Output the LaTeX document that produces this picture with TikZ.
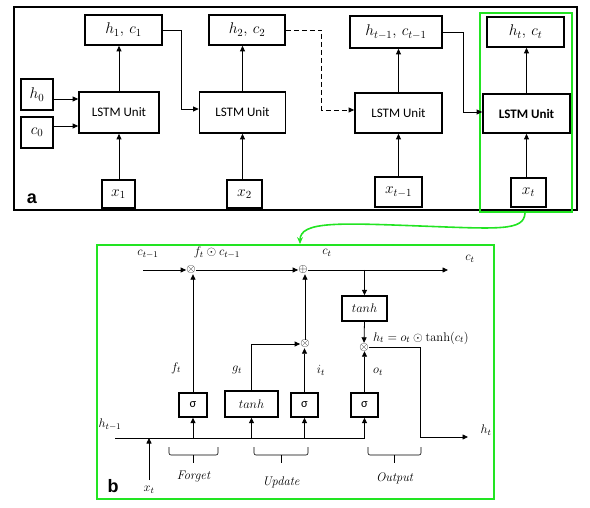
\RequirePackage{fix-cm}
\documentclass[tikz,border=0pt]{standalone}
\usepackage{fontspec}
\setsansfont{Carlito}
\usetikzlibrary{arrows.meta,calc}
\definecolor{hl}{RGB}{34,228,34}
\begin{document}
\begin{tikzpicture}[x=1pt,y=-1pt,
  box/.style={draw,line width=1.7pt,inner sep=0pt,fill=white},
  unit/.style={box,font=\sffamily\fontsize{13}{15}\selectfont},
  arr/.style={line width=0.8pt,-{Triangle[length=5.5pt,width=5pt]}},
  ln/.style={line width=0.8pt},
  bigm/.style={font=\fontsize{15.5}{17}\selectfont},
  smm/.style={font=\fontsize{12.5}{14}\selectfont,inner sep=1pt},
  gate/.style={box,line width=1.4pt,font=\fontsize{12.5}{14}\selectfont},
  op/.style={inner sep=0pt,font=\fontsize{12}{13}\selectfont},
  tag/.style={font=\fontspec{Liberation Sans}\bfseries\fontsize{18}{20}\selectfont},
  lab/.style={font=\fontsize{12.5}{14}\selectfont\itshape}]
\useasboundingbox (0,0) rectangle (590,508);

% ---------- panel a: unrolled chain ----------
\draw[line width=2.2pt] (14,7) rectangle (577,210);
\draw[hl,line width=1.6pt] (480,13) rectangle (572,212);
\node[tag] at (32,199) {a};

\node[box,bigm,minimum width=77pt,minimum height=30pt] (hc1) at (123.5,30) {$h_1,\,c_1$};
\node[box,bigm,minimum width=76pt,minimum height=30pt] (hc2) at (247,30) {$h_2,\,c_2$};
\node[box,bigm,minimum width=92pt,minimum height=32pt] (hc3) at (396,32) {$h_{t-1},\,c_{t-1}$};
\node[box,bigm,minimum width=77pt,minimum height=30pt] (hc4) at (525.5,32) {$h_t,\,c_t$};

\node[box,bigm,minimum width=32pt,minimum height=31pt] (h0) at (37,94.5) {$h_0$};
\node[box,bigm,minimum width=32pt,minimum height=31pt] (c0) at (37,132.5) {$c_0$};

\node[unit,minimum width=80pt,minimum height=41pt] (L1) at (119,112.5) {LSTM Unit};
\node[unit,minimum width=86pt,minimum height=41pt] (L2) at (242.5,112.5) {LSTM Unit};
\node[unit,minimum width=87pt,minimum height=40pt] (L3) at (398.5,113) {LSTM Unit};
\node[unit,minimum width=87pt,minimum height=39pt,font=\sffamily\bfseries\fontsize{13}{15}\selectfont] (L4) at (526.5,113.5) {LSTM Unit};

\node[box,bigm,minimum width=33pt,minimum height=28pt] (x1) at (118.5,194) {$x_1$};
\node[box,bigm,minimum width=35pt,minimum height=28pt] (x2) at (244.5,194) {$x_2$};
\node[box,bigm,minimum width=47pt,minimum height=30pt] (x3) at (398.5,192) {$x_{t-1}$};
\node[box,bigm,minimum width=35pt,minimum height=29pt] (x4) at (528.5,192.5) {$x_t$};

\foreach \u/\o/\i in {L1/hc1/x1,L2/hc2/x2,L3/hc3/x3,L4/hc4/x4}{
  \draw[arr] (\u.north) -- (\u.north |- \o.south);
  \draw[arr] (\i.north) -- (\i.north -| \u.south) -- (\u.south);
}
\draw[arr] ([yshift=-4.5pt]h0.east) -- ([yshift=-4.5pt]h0.east -| L1.west);
\draw[arr] ([yshift=6.5pt]c0.east) -- ([yshift=6.5pt]c0.east -| L1.west);
\draw[arr] (hc1.east) -- ++(19,0) |- ([yshift=3.5pt]L2.west);
\draw[arr,dashed,dash pattern=on 5pt off 3pt] (hc2.east) -- ++(36,0) |- ([yshift=3pt]L3.west);
\draw[arr] (hc3.east) -- ++(21,0) |- ([yshift=1.5pt]L4.west);

% zoom connector into panel b
\coordinate (ga) at (525,213);
\coordinate (gb) at (300,244);
\draw[hl,line width=1.6pt,-{Stealth[length=7pt,width=6pt,inset=2.5pt]}]
  (ga) .. controls (524,231) and (500,229) .. (420,226)
       .. controls (340,223) and (300,221) .. (gb);

% ---------- panel b: one LSTM cell ----------
\draw[hl,line width=1.8pt] (97,245) rectangle (494,499);
\node[tag] at (113,486) {b};

\node[op] (ot1) at (191,270) {$\otimes$};
\node[op] (pl)  at (303,270) {$\oplus$};
\node[op] (ot2) at (305,344) {$\otimes$};
\node[op] (ot3) at (364,347) {$\otimes$};

\node[gate,minimum width=28pt,minimum height=24pt] (sf) at (193,405) {\sffamily σ};
\node[gate,minimum width=53pt,minimum height=26pt] (tg) at (251.5,404) {$tanh$};
\node[gate,minimum width=27pt,minimum height=24pt] (si) at (304.5,405) {\sffamily σ};
\node[gate,minimum width=27pt,minimum height=24pt] (so) at (364.5,405) {\sffamily σ};
\node[gate,minimum width=45pt,minimum height=25pt] (tc) at (364.5,308.5) {$tanh$};

\coordinate (cin) at (143,270);
\coordinate (cout) at (448,270);
\coordinate (hin) at (115,438);
\coordinate (hbend) at (420,347);
\coordinate (hout) at (468,437);
\coordinate (xin) at (149,480);

% cell state path
\draw[arr] (cin) -- (ot1);
\draw[arr] (ot1) -- (pl);
\draw[arr] (pl) -- (cout);
\draw[arr] (tc.north |- pl) -- (tc.north);
\draw[arr] (tc.south) -- (ot3.north);

% gates
\draw[arr] (sf.north) -- (sf.north |- ot1.south);
\draw[arr] (tg.north) |- (ot2.west);
\draw[arr] (si.north) -- (si.north |- ot2.south);
\draw[arr] (ot2.north) -- (ot2.north |- pl.south);
\draw[arr] (so.north) -- (so.north |- ot3.south);

% hidden output
\draw[arr] (ot3.east) -- (hbend) |- (hout);

% shared input line
\draw[ln] (hin) -- (so.south |- hin);
\foreach \g in {sf,tg,si,so}
  \draw[arr] (\g.south |- hin) -- (\g.south);
\draw[arr] (xin) -- (xin |- hin);

% labels
\node[smm] at (148,254) {$c_{t-1}$};
\node[smm] at (217,253) {$f_t \odot c_{t-1}$};
\node[smm] at (327,253) {$c_t$};
\node[smm] at (470,259) {$c_t$};
\node[smm] at (486,430) {$h_t$};
\node[smm] at (110,425) {$h_{t-1}$};
\node[smm] at (149,490) {$x_t$};
\node[smm] at (176,368) {$f_t$};
\node[smm] at (237,370) {$g_t$};
\node[smm] at (321,370) {$i_t$};
\node[smm] at (378,372) {$o_t$};
\node[smm,anchor=west] at (372,338) {$h_t = o_t \odot \tanh(c_t)$};

% gate group brackets
\foreach \a/\b/\t/\ty in {169/218/Forget/477,254/308/Update/482,368/421/Output/478}{
  \draw[line width=0.6pt,rounded corners=2pt] (\a,447) |- (\b,455) -- (\b,447);
  \draw[line width=0.6pt] ({(\a+\b)/2},455) -- ({(\a+\b)/2},463);
  \node[lab] at ({(\a+\b)/2},\ty) {\t};
}
\end{tikzpicture}
\end{document}
